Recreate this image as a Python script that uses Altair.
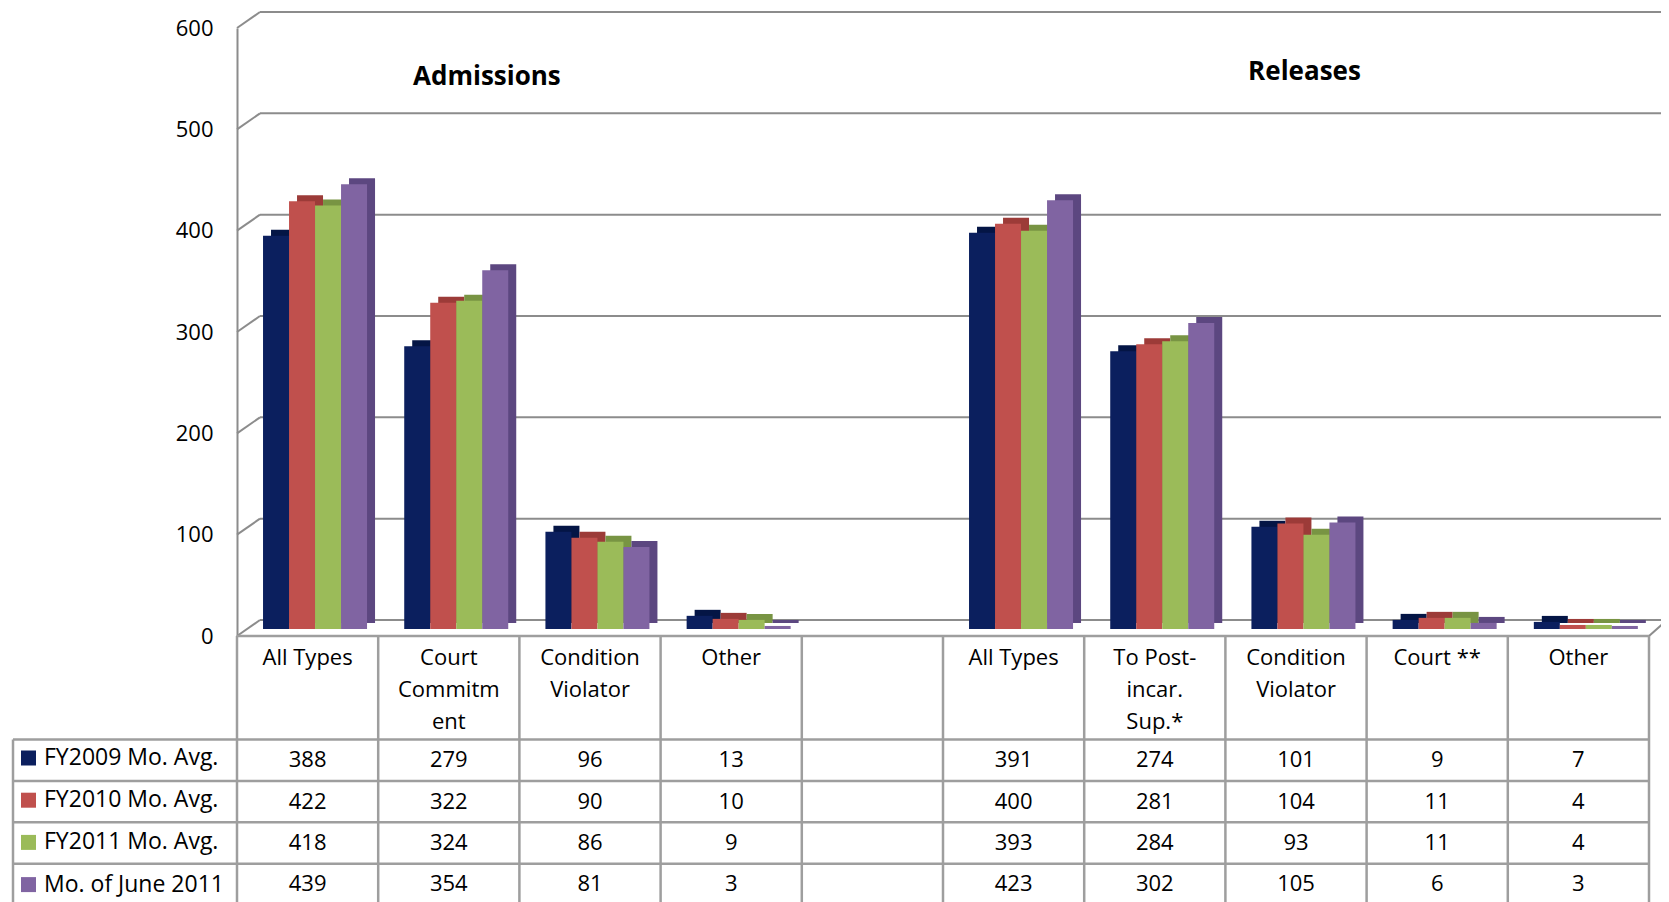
import altair as alt
import pandas as pd

# ---------------- data ----------------
series = ["FY2009 Mo. Avg.", "FY2010 Mo. Avg.", "FY2011 Mo. Avg.", "Mo. of June 2011"]
series_colors = ["#0B1F5E", "#C0504D", "#9BBB59", "#8064A2"]
series_dark = ["#041545", "#9C3B38", "#789443", "#5C4780"]

col_keys = ["A1", "A2", "A3", "A4", "GAP", "R1", "R2", "R3", "R4", "R5"]
col_labels = ["All Types", "Court\nCommitm\nent", "Condition\nViolator", "Other", "",
              "All Types", "To Post-\nincar.\nSup.*", "Condition\nViolator", "Court **", "Other"]

fy2009 = [388, 279, 96, 13, None, 391, 274, 101, 9, 7]
fy2010 = [422, 322, 90, 10, None, 400, 281, 104, 11, 4]
fy2011 = [418, 324, 86, 9, None, 393, 284, 93, 11, 4]
june2011 = [439, 354, 81, 3, None, 423, 302, 105, 6, 3]

section_titles = ["Admissions", "Releases"]
y_ticks = [0, 100, 200, 300, 400, 500, 600]

# ---------------- layout / style ----------------
W, H = 1412, 608
ROW = 41.4
HEADER = 2.5
FONT = "Open Sans"
GRID = "#8C8C8C"
TBL = "#9E9E9E"
DEPTH_X, DEPTH_Y = 23, -16

all_vals = [fy2009, fy2010, fy2011, june2011]
bar_rows, val_rows = [], []
for si, (s, vals) in enumerate(zip(series, all_vals)):
    for k, v in zip(col_keys, vals):
        if v is None:
            continue
        bar_rows.append({"key": k, "series": s, "value": v, "dark": series_dark[si]})
        val_rows.append({"key": k, "t": HEADER + si + 0.5, "txt": str(v)})
df_bars = pd.DataFrame(bar_rows)
df_vals = pd.DataFrame(val_rows)
df_hdr = pd.DataFrame({"key": col_keys, "label": col_labels, "t": [0.29] * len(col_keys)})
df_grid = pd.DataFrame({"v": y_ticks})
df_cols = pd.DataFrame({"key": col_keys, "t0": [0.0] * 10, "t1": [HEADER + 4.5] * 10})
df_last = pd.DataFrame({"key": ["R5"], "t0": [0.0], "t1": [HEADER + 4.5]})
df_hlines = pd.DataFrame({"t": [HEADER + i for i in range(5)]})

xs = alt.Scale(domain=col_keys, paddingInner=0, paddingOuter=0)
xos_front = alt.Scale(domain=series, paddingInner=0, paddingOuter=0.715, align=0.7)
xos_depth = alt.Scale(domain=series, paddingInner=0, paddingOuter=0.715, align=0.915)
ys = alt.Scale(domain=[0, 600], nice=False, zero=True)
ts = alt.Scale(domain=[0, HEADER + 4], range=[H, H + (HEADER + 4) * ROW], nice=False, zero=False)

yaxis = alt.Axis(values=y_ticks, title=None, ticks=False, tickSize=0, grid=False,
                 domain=True, domainColor=GRID, domainWidth=2, labelFont=FONT,
                 labelFontSize=22, labelColor="#000000", labelPadding=24)

# back-wall gridlines (carry the y axis)
grid = alt.Chart(df_grid).mark_rule(color=GRID, strokeWidth=2, yOffset=DEPTH_Y).encode(
    y=alt.Y("v:Q", scale=ys, axis=yaxis),
    x=alt.value(DEPTH_X), x2=alt.value(W + 60))
# left-wall diagonals
wall = alt.Chart(df_grid).mark_rule(color=GRID, strokeWidth=2, y2Offset=DEPTH_Y).encode(
    y=alt.Y("v:Q", scale=ys, axis=None), y2="v:Q",
    x=alt.value(0), x2=alt.value(DEPTH_X))
# right floor diagonal
floor_r = alt.Chart(pd.DataFrame({"v": [0]})).mark_rule(color=GRID, strokeWidth=2, y2Offset=DEPTH_Y).encode(
    y=alt.Y("v:Q", scale=ys, axis=None), y2="v:Q",
    x=alt.value(W), x2=alt.value(W + 18))

depth = alt.Chart(df_bars).mark_bar(yOffset=-13).encode(
    x=alt.X("key:N", scale=xs, axis=None),
    xOffset=alt.XOffset("series:N", scale=xos_depth),
    y=alt.Y("value:Q", scale=ys, axis=None),
    color=alt.Color("dark:N", scale=None))

front = alt.Chart(df_bars).mark_bar(yOffset=-7).encode(
    x=alt.X("key:N", scale=xs, axis=None),
    xOffset=alt.XOffset("series:N", scale=xos_front),
    y=alt.Y("value:Q", scale=ys, axis=None),
    color=alt.Color("series:N", scale=alt.Scale(domain=series, range=series_colors),
                    legend=alt.Legend(orient="none", legendX=-220, legendY=718.5, title=None,
                                      direction="vertical", symbolType="square", symbolSize=225,
                                      symbolStrokeWidth=0, symbolOpacity=1, labelFont=FONT,
                                      labelFontSize=23, labelColor="#000000", labelOffset=4,
                                      rowPadding=18.2, padding=0, labelLimit=400)))

titles = []
for key, bp, title, yv in [("A2", 0.77, section_titles[0], 49), ("R3", 0.56, section_titles[1], 44)]:
    titles.append(alt.Chart(pd.DataFrame({"key": [key], "title": [title]})).mark_text(
        font=FONT, fontSize=26, fontWeight="bold", color="#000000", baseline="middle", align="center").encode(
        x=alt.X("key:N", scale=xs, axis=None, bandPosition=bp),
        y=alt.value(yv), text="title:N"))

# table
top_line = alt.Chart(pd.DataFrame({"t": [0.0]})).mark_rule(color=TBL, strokeWidth=2.5).encode(
    y=alt.Y("t:Q", scale=ts, axis=None), x=alt.value(0), x2=alt.value(W))
hlines = alt.Chart(df_hlines).mark_rule(color=TBL, strokeWidth=2.5).encode(
    y=alt.Y("t:Q", scale=ts, axis=None), x=alt.value(-224), x2=alt.value(W))
vlines = alt.Chart(df_cols).mark_rule(color=TBL, strokeWidth=2.5).encode(
    x=alt.X("key:N", scale=xs, axis=None, bandPosition=0),
    y=alt.Y("t0:Q", scale=ts, axis=None), y2="t1:Q")
vlast = alt.Chart(df_last).mark_rule(color=TBL, strokeWidth=2.5).encode(
    x=alt.X("key:N", scale=xs, axis=None, bandPosition=1),
    y=alt.Y("t0:Q", scale=ts, axis=None), y2="t1:Q")
vleft = alt.Chart(pd.DataFrame({"t0": [HEADER], "t1": [HEADER + 4.5]})).mark_rule(color=TBL, strokeWidth=2.5).encode(
    x=alt.value(-224), y=alt.Y("t0:Q", scale=ts, axis=None), y2="t1:Q")

hdr = alt.Chart(df_hdr).mark_text(font=FONT, fontSize=22, color="#000000", baseline="top",
                                  align="center", lineBreak="\n", lineHeight=32).encode(
    x=alt.X("key:N", scale=xs, axis=None), y=alt.Y("t:Q", scale=ts, axis=None), text="label:N")
vals = alt.Chart(df_vals).mark_text(font=FONT, fontSize=22, color="#000000", baseline="middle",
                                    align="center").encode(
    x=alt.X("key:N", scale=xs, axis=None), y=alt.Y("t:Q", scale=ts, axis=None), text="txt:N")

chart = alt.layer(grid, wall, floor_r, depth, front, *titles,
                  top_line, hlines, vlines, vlast, vleft, hdr, vals).resolve_scale(
    y="independent", xOffset="independent").properties(
    width=W, height=H,
    padding={"left": 229, "top": 20, "right": 12, "bottom": 266},
    autosize=alt.AutoSizeParams(type="none"),
    background="white").configure_view(stroke=None)

chart.save("out.html", embed_options={"renderer": "svg", "actions": False})
